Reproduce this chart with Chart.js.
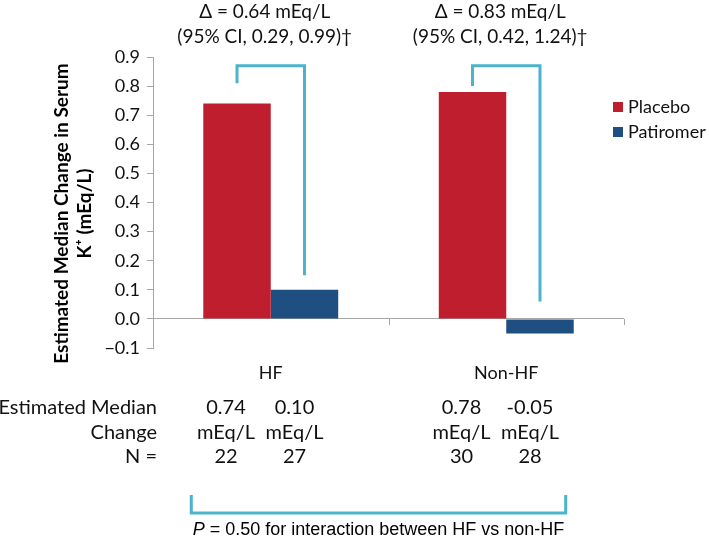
<!DOCTYPE html>
<html>
<head>
<meta charset="utf-8">
<script src="https://cdn.jsdelivr.net/npm/chart.js@4.4.1/dist/chart.umd.min.js"></script>
<style>
html, body { margin: 0; padding: 0; background: #fff; }
canvas { display: block; }
</style>
</head>
<body>
<canvas id="chart" width="709" height="538"></canvas>
<script>
// data
const groups = ['HF', 'Non-HF'];
const seriesNames = ['Placebo', 'Patiromer'];
const placebo = [0.74, 0.78];
const patiromer = [0.10, -0.05];
const placeboN = [22, 30];
const patiromerN = [27, 28];
const deltaLines = [
    ['\u0394 = 0.64 mEq/L', '(95% CI, 0.29, 0.99)\u2020'],
    ['\u0394 = 0.83 mEq/L', '(95% CI, 0.42, 1.24)\u2020']
];
// bracket legs: left leg start, bar top, right leg end (in mEq/L)
const bracketLeft = [0.81, 0.80];
const bracketTop = [0.87, 0.87];
const bracketRight = [0.15, 0.06];
const yMin = -0.1;
const yMax = 0.9;
const yStep = 0.1;
const yTitle = ['Estimated Median Change in Serum', 'K\u207A (mEq/L)'];
const rowLabels = [['Estimated Median', 'Change'], ['N =']];
const pText = ' = 0.50 for interaction between HF vs non-HF';

const RED = '#BE1E2D';
const BLUE = '#1F4E80';
const CYAN = '#4BB3CB';
const GRAY = '#A6A6A6';
const FONT = 'Lato, "Open Sans", sans-serif';

Chart.defaults.font.family = FONT;
Chart.defaults.color = '#111';

function fmt(v)
{
    return (v < 0 ? '-' : '') + Math.abs(v).toFixed(2);
}

const extras = {
    id: 'extras',
    afterDatasetsDraw(chart)
    {
        const ctx = chart.ctx;
        const ys = chart.scales.y;
        const a = chart.chartArea;
        const red = chart.getDatasetMeta(0).data;
        const blue = chart.getDatasetMeta(1).data;
        const y0 = ys.getPixelForValue(0);

        ctx.save();

        // small ticks on the zero line at the category edges
        ctx.strokeStyle = GRAY;
        ctx.lineWidth = 1;
        for (let i = 0; i <= groups.length; i++)
        {
            const px = Math.round(a.left + i * (a.right - a.left) / groups.length) + 0.5;
            ctx.beginPath();
            ctx.moveTo(px, y0);
            ctx.lineTo(px, y0 + 6);
            ctx.stroke();
        }

        // difference brackets
        ctx.strokeStyle = CYAN;
        ctx.lineWidth = 3;
        ctx.lineJoin = 'miter';
        groups.forEach((g, i) => {
            const xl = red[i].x;
            const xr = blue[i].x;
            ctx.beginPath();
            ctx.moveTo(xl, ys.getPixelForValue(bracketLeft[i]));
            ctx.lineTo(xl, ys.getPixelForValue(bracketTop[i]));
            ctx.lineTo(xr, ys.getPixelForValue(bracketTop[i]));
            ctx.lineTo(xr, ys.getPixelForValue(bracketRight[i]));
            ctx.stroke();
        });

        // y axis title, two rotated lines
        ctx.fillStyle = '#000';
        ctx.textAlign = 'center';
        ctx.textBaseline = 'middle';
        ctx.font = 'bold 19px ' + FONT;
        const tcy = (a.top + a.bottom) / 2 + 11;
        yTitle.forEach((t, i) => {
            ctx.save();
            ctx.translate(62 + i * 23, tcy);
            ctx.rotate(-Math.PI / 2);
            ctx.fillText(t, 0, 0);
            ctx.restore();
        });

        // delta text above
        ctx.fillStyle = '#111';
        ctx.font = '19px ' + FONT;
        groups.forEach((g, i) => {
            const cx = (red[i].x + blue[i].x) / 2 - 6;
            ctx.fillText(deltaLines[i][0], cx, 12);
            ctx.fillText(deltaLines[i][1], cx, 37);
        });

        // legend
        ctx.font = '18px ' + FONT;
        ctx.textAlign = 'left';
        [RED, BLUE].forEach((c, i) => {
            const ly = a.top + 50 + i * 25;
            ctx.fillStyle = c;
            ctx.fillRect(a.right - 11, ly - 5, 10, 10);
            ctx.fillStyle = '#111';
            ctx.fillText(seriesNames[i], a.right + 4, ly);
        });

        // table under the chart
        ctx.font = '20px ' + FONT;
        ctx.textAlign = 'right';
        ctx.fillText(rowLabels[0][0], a.left + 4, 408);
        ctx.fillText(rowLabels[0][1], a.left + 4, 433);
        ctx.fillText(rowLabels[1][0], a.left + 4, 457);
        ctx.textAlign = 'center';
        groups.forEach((g, i) => {
            const c1 = red[i].x - 11;
            const c2 = blue[i].x - 10;
            ctx.fillText(fmt(placebo[i]), c1, 408);
            ctx.fillText('mEq/L', c1, 433);
            ctx.fillText(String(placeboN[i]), c1, 457);
            ctx.fillText(fmt(patiromer[i]), c2, 408);
            ctx.fillText('mEq/L', c2, 433);
            ctx.fillText(String(patiromerN[i]), c2, 457);
        });

        // interaction bracket
        const bl = red[0].x - red[0].width / 2 - 12;
        const br = blue[1].x + blue[1].width / 2 - 8;
        ctx.strokeStyle = CYAN;
        ctx.lineWidth = 3;
        ctx.beginPath();
        ctx.moveTo(bl, 495);
        ctx.lineTo(bl, 513);
        ctx.lineTo(br, 513);
        ctx.lineTo(br, 495);
        ctx.stroke();

        // P value line
        const pf = '18px "Liberation Sans", Arial, sans-serif';
        ctx.font = 'italic ' + pf;
        const pw = ctx.measureText('P').width;
        ctx.font = pf;
        const rw = ctx.measureText(pText).width;
        const sx = (bl + br) / 2 - (pw + rw) / 2;
        ctx.textAlign = 'left';
        ctx.fillStyle = '#000';
        ctx.font = 'italic ' + pf;
        ctx.fillText('P', sx, 530);
        ctx.font = pf;
        ctx.fillText(pText, sx + pw, 530);

        ctx.restore();
    }
};

new Chart(document.getElementById('chart'), {
    type: 'bar',
    data: {
        labels: groups,
        datasets: [
            {
                label: seriesNames[0],
                data: placebo,
                backgroundColor: RED,
                categoryPercentage: 0.573,
                barPercentage: 1.0
            },
            {
                label: seriesNames[1],
                data: patiromer,
                backgroundColor: BLUE,
                categoryPercentage: 0.573,
                barPercentage: 1.0
            }
        ]
    },
    options: {
        responsive: false,
        animation: false,
        layout: {
            padding: { top: 57, right: 85, bottom: 150, left: 0 }
        },
        plugins: {
            legend: { display: false },
            tooltip: { enabled: false }
        },
        scales: {
            x: {
                grid: { display: false },
                border: { display: false },
                ticks: {
                    padding: 6,
                    color: '#111',
                    font: { size: 18 }
                },
                afterFit: (s) => { s.height = 40; }
            },
            y: {
                min: yMin,
                max: yMax,
                afterFit: (s) => { s.width = 153; },
                border: { display: true, color: GRAY, width: 1 },
                grid: {
                    color: (c) => (c.tick && Math.abs(c.tick.value) < 1e-9) ? GRAY : 'rgba(0,0,0,0)',
                    tickColor: GRAY,
                    tickLength: 6,
                    drawTicks: true
                },
                ticks: {
                    stepSize: yStep,
                    padding: 7,
                    color: '#111',
                    font: { size: 18 },
                    callback: (v) => (v < -1e-9 ? '\u2212' : '') + Math.abs(v).toFixed(1)
                }
            }
        }
    },
    plugins: [extras]
});
</script>
</body>
</html>
